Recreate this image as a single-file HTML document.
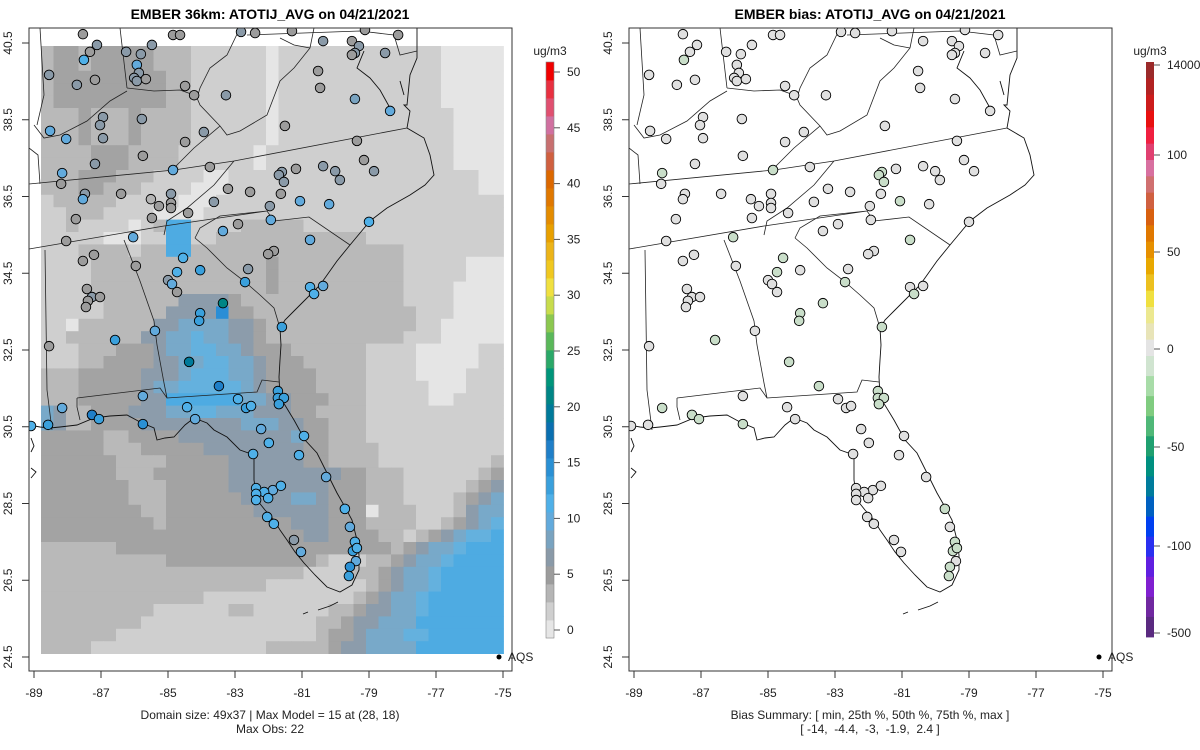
<!DOCTYPE html>
<html><head><meta charset="utf-8"><style>
html,body{margin:0;padding:0;background:#fff;}
svg{display:block;font-family:"Liberation Sans",Arial,sans-serif;}
</style></head><body>
<svg id="chart" width="1200" height="750" viewBox="0 0 1200 750">
<defs>
<clipPath id="clipL"><rect x="29" y="28" width="483" height="643"/></clipPath>
</defs>
<g id="left"></g>
<g id="right"></g>
</svg>
<script>
// ---- data ----
const gridRows = [
"2332333332221111110111111111111100000",
"2332333332221111110111111111111100000",
"2333333333221111110111111111111100000",
"2333333333221111110111111111111100000",
"2333333333221111110111111111111100000",
"2223222322221111110111111111111110000",
"2223222322221111110111111111111110000",
"2223222322221111110111111111111110000",
"2222333222211111101111111111111110000",
"2222333222211111101111111111111110000",
"2223332221111001111111111111111111100",
"2223322211110001111111111111111111100",
"1222221111100011111111111111111111111",
"1122211110000111111111111111111111111",
"1121111012771111222221111111111111111",
"1111100011771122222222222211111111111",
"1112222122772222222222222222211111111",
"1111222222222222223222222222211111000",
"1111222222222222223222222222211111000",
"1111222222222222223222222222211110000",
"1111122222244443222222222222211110000",
"1111122222444483322222222222221110000",
"1102222224455554432222222222221100000",
"1122222244556554432222222222211100000",
"1112223334556655433322222211110000011",
"1112233334455665543332222211110000011",
"2223333344456665543333222211110000111",
"2223333345566666543333222211111000111",
"2223333344777777554433322211111001111",
"5422333444556655544433222211111111111",
"5422333344444444555443322211111111111",
"3333322333344444444453322211111111111",
"3333322233333444444443322221111111111",
"3333332222333334444443322221111111112",
"3333332223333334444444443322211111123",
"3333333222333334444444433322211111234",
"3333333222333333444455433322211112345",
"3333333322333333344444433302221112455",
"3333333332333333333344433322221123456",
"3333333333333333333334433332212345667",
"2222223333333333333333333333234556777",
"2222222222333333333333211122345567777",
"2222222222222222222221111223455677777",
"2222222222222222221111111123455677777",
"2222222222222111111111111234556777777",
"2222222221111112211111122344556777777",
"2222222211111111111111223445557777777",
"2222221111111111111111233455566777777",
"2222111111111111112222234455557777777"
];
const stationLon = [-87.54,-84.85,-84.64,-82.82,-82.40,-81.30,-79.12,-78.13,-87.12,-87.51,-87.33,-86.25,-85.81,-85.48,-85.93,-85.87,-86.01,-85.93,-85.66,-88.55,-87.72,-87.18,-84.49,-84.22,-83.27,-80.37,-79.51,-79.30,-79.42,-79.51,-78.52,-80.52,-80.46,-79.42,-78.37,-86.94,-87.03,-85.78,-88.52,-88.04,-86.94,-83.93,-84.49,-81.51,-85.75,-87.18,-79.36,-88.16,-88.19,-84.85,-83.75,-79.15,-80.37,-81.18,-80.01,-79.87,-78.85,-81.60,-81.69,-81.54,-87.48,-87.54,-86.40,-84.91,-83.21,-82.55,-81.63,-85.51,-84.91,-85.27,-84.91,-83.63,-81.06,-80.19,-81.96,-84.40,-85.48,-87.75,-81.93,-79.00,-83.36,-82.91,-86.04,-88.04,-80.76,-81.84,-82.01,-87.21,-87.54,-84.55,-85.96,-84.04,-84.73,-85.00,-84.88,-82.61,-82.70,-87.42,-87.27,-87.03,-87.39,-87.45,-84.73,-80.76,-80.37,-80.64,-83.36,-84.04,-84.07,-81.60,-85.39,-86.58,-88.55,-84.37,-83.48,-85.75,-88.16,-89.09,-88.58,-87.27,-87.06,-85.75,-84.43,-84.19,-82.91,-82.67,-82.52,-81.72,-81.72,-81.54,-81.69,-82.22,-80.94,-81.99,-82.46,-81.09,-80.28,-82.37,-81.87,-81.63,-82.13,-82.37,-82.37,-82.01,-82.04,-81.84,-79.72,-79.57,-81.24,-81.03,-79.42,-79.48,-79.36,-79.39,-79.57,-79.60];
const stationLat = [40.73,40.71,40.71,40.79,40.76,40.81,40.84,40.71,40.45,40.06,40.27,40.27,40.21,40.45,39.93,39.72,39.59,39.51,39.56,39.67,39.41,39.54,39.38,39.14,39.14,40.55,40.55,40.42,40.24,40.19,40.24,39.77,39.33,39.04,38.73,38.57,38.36,38.52,38.21,38.00,38.02,38.18,37.92,38.34,37.56,37.35,37.95,37.11,36.83,37.19,37.27,37.45,37.29,37.22,37.16,36.93,37.16,37.14,37.06,36.88,36.57,36.43,36.57,36.57,36.70,36.62,36.57,36.43,36.33,36.25,36.20,36.36,36.38,36.30,36.25,36.07,35.94,35.91,35.89,35.84,35.60,35.78,35.44,35.34,35.37,35.08,35.00,34.98,34.82,34.90,34.69,34.58,34.53,34.32,34.22,34.61,34.27,34.09,33.88,33.88,33.78,33.62,34.01,34.14,34.17,33.96,33.72,33.46,33.26,33.10,33.00,32.76,32.60,32.19,31.56,31.30,30.99,30.52,30.55,30.81,30.70,30.57,31.01,30.70,31.22,30.99,31.04,31.43,31.25,31.25,31.09,30.44,30.26,30.08,29.79,29.76,29.19,28.90,28.85,28.96,28.80,28.75,28.59,28.64,28.15,27.97,28.36,27.89,27.55,27.24,27.50,27.26,27.34,27.00,26.85,26.61];
const stationObs = [5,5,5,7,5,5,5,5,7,11,5,7,7,7,10,6,6,7,5,7,7,5,5,5,7,7,5,7,6,5,6,5,5,8,10,7,7,6,9,9,7,7,5,5,5,7,5,9,5,9,5,5,7,5,7,7,7,7,7,7,7,9,5,7,5,5,5,3,4,4,4,6,9,9,7,4,4,5,9,11,9,5,9,5,9,5,5,5,5,11,4,12,11,7,10,7,12,5,7,5,5,5,5,11,9,11,21,12,12,12,9,12,5,20,16,10,10,11,12,16,12,14,11,9,11,12,11,12,13,13,12,9,11,11,11,11,9,11,9,11,11,11,11,11,11,11,11,9,7,9,11,13,11,9,15,13];
const stationBias = [-3,-3,-3,-3,-3,-3,-3,-3,-3,-8,-3,-3,-3,-3,-3,-3,-3,-3,-3,-3,-3,-3,-3,-3,-3,-3,-3,-3,-3,-3,-3,-3,-3,-3,-3,-3,-3,-3,-3,-3,-3,-3,-3,-3,-3,-3,-3,-8,-3,-8,-3,-3,-3,-3,-3,-3,-3,-8,-8,-8,-3,-3,-3,-3,-3,-3,-3,-3,-3,-3,-3,-3,-8,-3,-3,-3,-3,-3,-3,-3,-3,-3,-8,-3,-8,-3,-3,-3,-3,-8,-3,-3,-8,-3,-3,-3,-8,-3,-3,-3,-3,-3,-3,-3,-3,-8,-8,-8,-8,-8,-3,-8,-3,-8,-8,-3,-8,-3,-3,-8,-8,-8,-3,-3,-3,-3,-3,-8,-8,-8,-8,-3,-3,-3,-3,-3,-3,-3,-3,-3,-3,-3,-3,-3,-3,-3,-8,-3,-3,-3,-8,-8,-8,-3,-8,-8];
const xTicks = [-89,-87,-85,-83,-81,-79,-77,-75];
const yTicks = [40.5,38.5,36.5,34.5,32.5,30.5,28.5,26.5,24.5];
const cbLabels = [0,5,10,15,20,25,30,35,40,45,50];
const biasLabels = ["14000","100","50","0","-50","-100","-500"];
const biasLabelY = [65,155,252,349,447,546,633];

// ---- helpers ----
const NS="http://www.w3.org/2000/svg";
function mk(tag,attrs,parent){const e=document.createElementNS(NS,tag);for(const k in attrs)e.setAttribute(k,attrs[k]);parent.appendChild(e);return e;}
const px = lon => 34 + (lon+89)*33.5;
const py = lat => 43 + (40.5-lat)*38.375;
const levelColors=["#e5e5e5","#cfcfcf","#b9b9b9","#a3a3a3","#8c9cab","#78a9c9","#64b1de","#4eabe2","#2a8ed6"];
const cbColors=["#e6e6e6","#cfcfcf","#b5b5b5","#9c9c9c","#8a9aa8","#79a3c0","#62aadc","#4fb0e8","#3aa0dc","#2a90d4","#1f7fc8","#0a6fb0","#007a9a","#008585","#00957a","#2aa868","#5ab85a","#8cc850","#c8dc4c","#f0e040","#f0c820","#ecb418","#e8a000","#e48c00","#e07800","#dc6800","#d06040","#c87070","#d070a0","#e05070","#e83040","#f00000"];
function obsColor(v){let i=Math.floor((v+1)/(52/32));return cbColors[Math.max(0,Math.min(31,i))];}
function biasColor(b){return b<=-6?"#c9dec9":"#e0e0e0";}

const coast="M417,28 L417,48 L417,58 L410,75 L407,105 L404,105 L410,111 L407,128 L424,138 L430,155 L434,175 L425,185 L410,195 L387,208 L370,221 L360,233 L350,245 L337,261 L320,285 L305,300 L294,311 L285,320 L280,328 L281,345 L280,360 L279,377 L280,397 L294,420 L305,440 L317,453 L328,475 L337,493 L345,507 L352,520 L357,540 L359,555 L359,570 L352,585 L340,592 L327,587 L315,575 L304,563 L295,552 L287,540 L280,530 L274,520 L265,510 L257,500 L254,480 L254,455 L240,450 L227,437 L214,430 L207,423 L194,418 L185,425 L174,437 L165,438 L157,440 L154,428 L140,422 L127,415 L110,416 L94,418 L77,425 L60,427 L50,428 L40,427 L29,425 M364,51 L357,68 L370,78 L380,90 L390,108 M400,81 L404,95 M338,602 L330,606 L318,610 M308,612 L303,614 M31,438 L34,446 L31,452 M31,468 L36,472 L31,478";
const borders="M29,184 L174,170 L234,161 L407,128 M234,161 L214,185 L187,208 L167,221 L164,235 M29,249 L164,226 L267,211 L274,221 L309,217 L350,245 M195,238 L200,228 L220,216 L267,211 M195,238 L207,248 L227,268 L244,281 L260,295 L274,308 L280,328 M124,240 L140,281 L154,321 L157,345 L164,383 L167,398 M77,398 L160,388 L167,398 L257,392 L262,380 L279,382 M77,398 L77,407 L80,420 M45,250 L47,390 L52,430 M197,98 L200,105 L220,126 L227,135 L240,131 L267,115 L280,81 L294,68 L310,48 L314,28 M240,28 L227,55 L210,68 L200,88 L197,98 M127,88 L154,91 L180,90 L194,95 L197,98 M34,125 L44,138 L60,135 L87,121 L110,101 L127,91 M40,28 L44,95 L37,125 M120,28 L127,88 M220,126 L194,148 L174,168 M247,35 L360,31 L394,35 L400,55 L417,51 M280,38 L294,45 L310,48 M29,148 L38,155 L40,184";

function drawPanel(g,off,isBias,title,foot1,foot2){
  const clip = mk("g",{"clip-path":"url(#clipL)",transform:`translate(${off},0)`},g);
  if(!isBias){
    const rg=mk("g",{},clip);
    
    
    gridRows.forEach((row,r)=>{
      for(let c=0;c<37;c++){
        const ch=row[c]||row[row.length-1];
        mk("rect",{x:41+12.5*c,y:46+12.4*r,width:12.9,height:12.8,fill:levelColors[+ch]},rg);
      }
    });
  }
  const cl=mk("path",{d:coast,fill:"none",stroke:"#111",'stroke-width':0.9},clip);
  
  
  const bd=mk("path",{d:borders,fill:"none",stroke:"#222",'stroke-width':0.8},clip);
  
  
  const pg=mk("g",{},clip);
  for(let i=0;i<stationLon.length;i++){
    const c=mk("circle",{cx:px(stationLon[i]),cy:py(stationLat[i]),r:4.8,fill:isBias?biasColor(stationBias[i]):obsColor(stationObs[i]),stroke:"#000",'stroke-width':0.9},pg);
    
    
  }
  const T=mk("g",{transform:`translate(${off},0)`},g);
  const box=mk("rect",{x:29,y:28,width:483,height:643,fill:"none",stroke:"#333",'stroke-width':1},T);
  
  
  xTicks.forEach(v=>{
    const x=px(v);
    mk("line",{x1:x,x2:x,y1:671,y2:678,stroke:"#333"},T);
    const t=mk("text",{x:x,y:697,'text-anchor':'middle','font-size':12,fill:"#222"},T);
    t.textContent=v;
    
    
  });
  yTicks.forEach(v=>{
    const y=py(v);
    mk("line",{x1:22,x2:29,y1:y,y2:y,stroke:"#333"},T);
    const t=mk("text",{x:0,y:0,transform:`translate(12,${y}) rotate(-90)`,'text-anchor':'middle','font-size':12,fill:"#222"},T);
    t.textContent=v.toFixed(1);
    
    
  });
  const tt=mk("text",{x:270,y:19,'text-anchor':'middle','font-size':14,'font-weight':'bold',fill:"#000"},T);
  tt.textContent=title;
  
  
  const f1=mk("text",{x:270,y:719,'text-anchor':'middle','font-size':12,fill:"#222"},T);
  f1.textContent=foot1;
  
  
  const f2=mk("text",{x:270,y:733,'text-anchor':'middle','font-size':12,fill:"#222",style:"white-space:pre"},T);
  f2.textContent=foot2;
  
  
  const lg=mk("g",{},T);
  
  
  mk("circle",{cx:499,cy:657,r:2.5,fill:"#000"},lg);
  const lt=mk("text",{x:508,y:661,'font-size':12,fill:"#222"},lg);
  lt.textContent="AQS";
}

const L=document.getElementById('left'), R=document.getElementById('right');
drawPanel(L,0,false,"EMBER 36km: ATOTIJ_AVG on 04/21/2021","Domain size: 49x37 | Max Model = 15 at (28, 18)","Max Obs: 22");
drawPanel(R,600,true,"EMBER bias: ATOTIJ_AVG on 04/21/2021","Bias Summary: [ min, 25th %, 50th %, 75th %, max ]","[ -14,  -4.4,  -3,  -1.9,  2.4 ]");

// left colorbar
(function(){
  const g=mk("g",{},L);
  
  
  const top=62,bot=638,n=cbColors.length,h=(bot-top)/n;
  cbColors.forEach((c,i)=>mk("rect",{x:546,y:bot-(i+1)*h,width:8,height:h+0.4,fill:c},g));
  mk("rect",{x:546,y:top,width:8,height:bot-top,fill:"none",stroke:"#888",'stroke-width':0.6},g);
  cbLabels.forEach(v=>{
    const y=630-(v/50)*558;
    mk("line",{x1:554,x2:560,y1:y,y2:y,stroke:"#555"},g);
    const t=mk("text",{x:567,y:y+4,'font-size':12,fill:"#222"},g);
    t.textContent=v;
  });
  const u=mk("text",{x:550,y:55,'text-anchor':'middle','font-size':12,fill:"#222"},g);
  u.textContent="ug/m3";
})();
// right colorbar
(function(){
  const g=mk("g",{},R);
  
  
  const above=["#9b2a2a","#b22222","#cc1c1c","#e81010","#f02040","#e04070","#d870a0","#d07070","#d06040","#d86010","#e07800","#e69000","#e8a800","#ecc020","#f0e040","#ece890","#e8e4b8","#e4e4e4"];
  const below=["#d0e4d0","#a8dca8","#80cc80","#50b878","#20a070","#009080","#007c9c","#0060c0","#0040f0","#2a30f0","#6020e0","#8020d0","#7028a0","#5a2a80"];
  const top=62,mid=356,bot=637;
  let h=(mid-top)/above.length;
  above.forEach((c,i)=>mk("rect",{x:1146,y:top+i*h,width:8,height:h+0.4,fill:c},g));
  h=(bot-mid)/below.length;
  below.forEach((c,i)=>mk("rect",{x:1146,y:mid+i*h,width:8,height:h+0.4,fill:c},g));
  biasLabels.forEach((v,i)=>{
    const y=biasLabelY[i];
    mk("line",{x1:1154,x2:1160,y1:y,y2:y,stroke:"#555"},g);
    const t=mk("text",{x:1167,y:y+4,'font-size':12,fill:"#222"},g);
    t.textContent=v;
  });
  const u=mk("text",{x:1150,y:55,'text-anchor':'middle','font-size':12,fill:"#222"},g);
  u.textContent="ug/m3";
})();
</script>
</body></html>
